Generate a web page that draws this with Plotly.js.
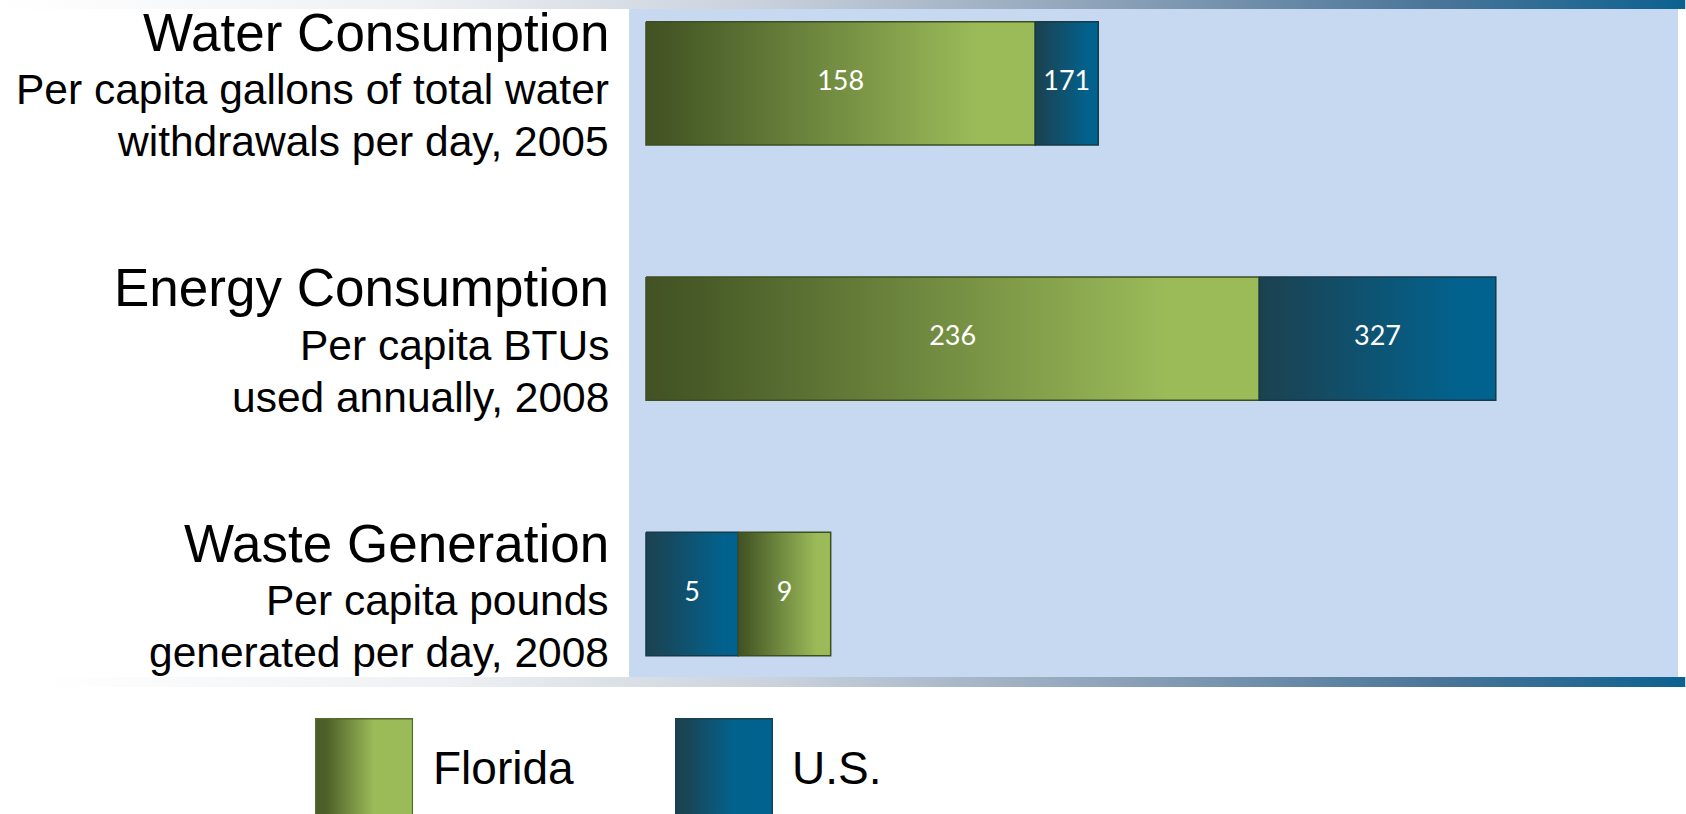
<!DOCTYPE html>
<html>
<head>
<meta charset="utf-8">
<script src="https://cdn.plot.ly/plotly-3.0.1.min.js"></script>
<style>
  html, body { margin: 0; padding: 0; background: #ffffff; }
  #chart { width: 1686px; height: 814px; }
</style>
</head>
<body>
<div id="chart"></div>
<script>
// ---------------- DATA ----------------
const categories = ['Water Consumption', 'Energy Consumption', 'Waste Generation'];
const subtitleLine1 = ['Per capita gallons of total water', 'Per capita BTUs', 'Per capita pounds'];
const subtitleLine2 = ['withdrawals per day, 2005', 'used annually, 2008', 'generated per day, 2008'];
const seriesNames = ['Florida', 'U.S.'];
const floridaValues = [158, 236, 9];
const usValues = [171, 327, 5];

// ---------------- STYLE / LAYOUT CONSTANTS ----------------
const W = 1686, H = 814;
const M = { l: 629, r: 7.5, t: 9, b: 137 };
const PW = W - M.l - M.r, PH = H - M.t - M.b;
const pxX = px => (px - M.l) / PW;
const pxY = py => 1 - (py - M.t) / PH;

// each row is its own value scale (units differ): axis baseline and pixels per unit
const rowScales = [
  { axis: 'x',  base: 77.7, pxPerUnit: 4.85 },
  { axis: 'x2', base: 0,    pxPerUnit: 2.6 },
  { axis: 'x3', base: 1,    pxPerUnit: 23.1 }
];
const barStartOffsetPx = 17;

const greenScale = [[0, '#435224'], [0.08, '#475a27'], [0.85, '#9bbb59'], [1, '#9bbb59']];
const blueScale  = [[0, '#1a4251'], [0.08, '#1a4455'], [0.85, '#02628e'], [1, '#00628f']];
const seriesStyle = {
  'Florida': { scale: greenScale, line: '#3f4e21' },
  'U.S.':    { scale: blueScale,  line: '#163a48' }
};
const halfBar = 0.2415;

// ---------------- TRACES ----------------
const traces = [];
categories.forEach((cat, i) => {
  const sc = rowScales[i];
  const pairs = [
    { name: seriesNames[0], v: floridaValues[i] },
    { name: seriesNames[1], v: usValues[i] }
  ].sort((a, b) => a.v - b.v);
  const segs = [
    { s: pairs[0], a: sc.base, b: pairs[0].v },
    { s: pairs[1], a: pairs[0].v, b: pairs[1].v }
  ];
  segs.forEach(seg => {
    const st = seriesStyle[seg.s.name];
    traces.push({
      type: 'scatter', mode: 'lines', name: seg.s.name,
      x: [seg.a, seg.b, seg.b, seg.a, seg.a],
      y: [i - halfBar, i - halfBar, i + halfBar, i + halfBar, i - halfBar],
      fill: 'toself',
      fillgradient: { type: 'horizontal', start: seg.a, stop: seg.b, colorscale: st.scale },
      line: { color: st.line, width: 1.5 },
      xaxis: sc.axis, yaxis: 'y', showlegend: false, hoverinfo: 'skip'
    });
    traces.push({
      type: 'scatter', mode: 'text',
      x: [(seg.a + seg.b) / 2], y: [i], text: [String(seg.s.v)],
      textposition: 'middle center',
      textfont: { family: 'Lato, Carlito, sans-serif', size: 27, color: '#ffffff' },
      xaxis: sc.axis, yaxis: 'y', showlegend: false, hoverinfo: 'skip'
    });
  });
});

// ---------------- ANNOTATIONS (row labels, legend text) ----------------
const labelFont = 'Liberation Sans, Arial, sans-serif';
const annotations = [];
categories.forEach((cat, i) => {
  const lines = [
    { t: cat, size: 53, shift: 51 },
    { t: subtitleLine1[i], size: 42.5, shift: -6.6 },
    { t: subtitleLine2[i], size: 42.5, shift: -58.4 }
  ];
  lines.forEach(l => annotations.push({
    xref: 'paper', yref: 'y', x: 0, y: i, xanchor: 'right', yanchor: 'middle',
    xshift: -18.4, yshift: l.shift, showarrow: false, text: l.t, align: 'right',
    font: { family: labelFont, size: l.size, color: '#000000' }
  }));
});
const legendItems = [
  { name: seriesNames[0], textX: 431 },
  { name: seriesNames[1], textX: 790 }
];
legendItems.forEach(it => annotations.push({
  xref: 'paper', yref: 'paper', x: pxX(it.textX), y: pxY(767.5), xanchor: 'left', yanchor: 'middle',
  showarrow: false, text: it.name, font: { family: labelFont, size: 46, color: '#000000' }
}));

// ---------------- DECORATIVE GRADIENTS (bands, legend swatches) ----------------
function gradSvg(stops, stroke) {
  const st = stops.map(s => `<stop offset="${s[0]}" stop-color="${s[1]}"/>`).join('');
  const border = stroke ? `<rect x="0.5" y="0.5" width="99" height="99" fill="none" stroke="${stroke}" stroke-width="1.5" vector-effect="non-scaling-stroke"/>` : '';
  const svg = `<svg xmlns="http://www.w3.org/2000/svg" width="100" height="100" viewBox="0 0 100 100" preserveAspectRatio="none"><defs><linearGradient id="g" x1="0" x2="1" y1="0" y2="0">${st}</linearGradient></defs><rect width="100" height="100" fill="url(#g)"/>${border}</svg>`;
  return 'data:image/svg+xml;charset=utf-8,' + encodeURIComponent(svg);
}
const bandStops = [[0, '#ffffff'], [0.25, '#eef0f3'], [0.45, '#c9d1dc'], [0.65, '#8ea3b9'], [0.85, '#4b7598'], [1, '#0c6190']];
function pxImage(src, x0, y0, x1, y1) {
  return {
    source: src, xref: 'paper', yref: 'paper',
    x: pxX(x0), y: pxY(y0), sizex: (x1 - x0) / PW, sizey: (y1 - y0) / PH,
    xanchor: 'left', yanchor: 'top', sizing: 'stretch', layer: 'above'
  };
}
const images = [
  pxImage(gradSvg(bandStops), 0, 0, 1686, 9),
  pxImage(gradSvg(bandStops), 40, 677, 1686, 687),
  pxImage(gradSvg([[0, '#4a5c28'], [0.12, '#4e6129'], [0.6, '#9bbb59'], [1, '#9bbb59']], '#55692b'), 315, 718, 413, 830),
  pxImage(gradSvg([[0, '#1a4352'], [0.12, '#1a4556'], [0.6, '#03628e'], [1, '#00628f']], '#1a4050'), 675, 718, 773, 830)
];

// ---------------- LAYOUT ----------------
function rowRange(sc) {
  const lo = sc.base - barStartOffsetPx / sc.pxPerUnit;
  return [lo, lo + PW / sc.pxPerUnit];
}
const layout = {
  width: W, height: H,
  margin: M,
  paper_bgcolor: '#ffffff',
  plot_bgcolor: '#c6d9f0',
  showlegend: false,
  xaxis:  { range: rowRange(rowScales[0]), visible: false, fixedrange: true },
  xaxis2: { range: rowRange(rowScales[1]), overlaying: 'x', visible: false, fixedrange: true },
  xaxis3: { range: rowRange(rowScales[2]), overlaying: 'x', visible: false, fixedrange: true },
  yaxis: { range: [2.325, -0.291], visible: false, fixedrange: true },
  annotations: annotations,
  images: images
};

Plotly.newPlot('chart', traces, layout, { displayModeBar: false, staticPlot: true });
</script>
</body>
</html>
